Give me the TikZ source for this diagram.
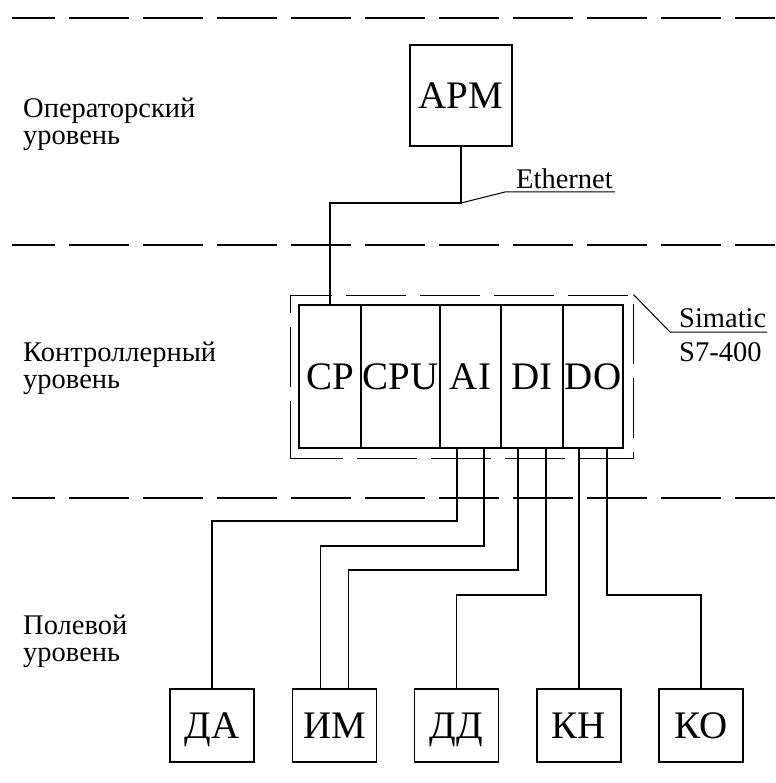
\documentclass[tikz,border=0pt]{standalone}
\usepackage{fontspec}
\setmainfont{Liberation Serif}
\begin{document}
\begin{tikzpicture}[x=1pt,y=-1pt,
  bigtext/.style={font=\fontsize{39}{42}\selectfont, text height=26pt, text depth=0pt, inner sep=0pt},
  smalltext/.style={font=\fontsize{28.5}{27}\selectfont, inner sep=0pt},
  levelsep/.style={line width=1.5pt, dash pattern=on 60pt off 14pt, dash phase=17pt},
  boxline/.style={draw, line width=1.6pt},
  modbox/.style={boxline, bigtext, minimum height=143pt},
  fieldbox/.style={boxline, bigtext, minimum width=84pt, minimum height=73pt},
  plcbox/.style={draw, line width=0.9pt, dash pattern=on 60pt off 14pt, dash phase=7pt, minimum width=343pt, minimum height=163pt, inner sep=0pt},
  wire/.style={line width=1.6pt},
  leader/.style={line width=1pt}]
\useasboundingbox (0,0) rectangle (775,783);

% level separators
\draw[levelsep] (12,18) -- (775,18);
\draw[levelsep] (12,245) -- (775,245);
\draw[levelsep] (12,498) -- (775,498);

% level labels (anchor base = baseline of the last line)
\node[smalltext, anchor=base west, align=left] (lvl1) at (23,145) {Операторский\\уровень};
\node[smalltext, anchor=base west, align=left] (lvl2) at (23,388) {Контроллерный\\уровень};
\node[smalltext, anchor=base west, align=left] (lvl3) at (23,661) {Полевой\\уровень};

% operator workstation
\node[boxline, bigtext, minimum width=102pt, minimum height=101pt] (arm) at (461,95.5) {АРМ};

% controller
\node[plcbox] (plc) at (461.5,376.5) {};
\node[modbox, minimum width=62pt] (cp)  at (330,376.5) {CP};
\node[modbox, minimum width=79pt] (cpu) at (400.5,376.5) {CPU};
\node[modbox, minimum width=61pt] (ai)  at (470.5,376.5) {AI};
\node[modbox, minimum width=62pt] (di)  at (532,376.5) {DI};
\node[modbox, minimum width=60pt] (dom) at (593,376.5) {DO};

% field devices
\node[fieldbox] (da) at (212,725.5) {ДА};
\node[fieldbox] (im) at (334.5,725.5) {ИМ};
\node[fieldbox] (dd) at (456.5,725.5) {ДД};
\node[fieldbox] (kn) at (579,725.5) {КН};
\node[fieldbox] (ko) at (701,725.5) {КО};

% Ethernet
\coordinate (ethj) at (461,203);
\draw[wire] (arm.south) -- (ethj) -| (cp.north);
\coordinate (ethk) at (505,192);
\coordinate (ethe) at (615,192);
\node[smalltext, anchor=base] (eth) at (564.5,189) {Ethernet};
\draw[leader] (ethj) -- (ethk) -- (ethe);

% Simatic label
\coordinate (simk) at (670,332);
\coordinate (sime) at (767,332);
\draw[leader] (plc.north east) -- (simk) -- (sime);
\node[smalltext, anchor=base west] (sim) at (679,327) {Simatic};
\node[smalltext, anchor=base west] (s7) at (679,361) {S7-400};

% field wiring
\draw[wire] ([xshift=-13.5pt]ai.south) -- ++(0,72) -| (da.north);
\draw[wire] ([xshift=13.5pt]ai.south) -- ++(0,97) -| ([xshift=-14pt]im.north);
\draw[wire] ([xshift=-14pt]di.south) -- ++(0,121) -| ([xshift=14pt]im.north);
\draw[wire] ([xshift=14pt]di.south) -- ++(0,146) -| (dd.north);
\draw[wire] ([xshift=-14pt]dom.south) -- (kn.north);
\draw[wire] ([xshift=14pt]dom.south) -- ++(0,146) -| (ko.north);
\end{tikzpicture}
\end{document}
